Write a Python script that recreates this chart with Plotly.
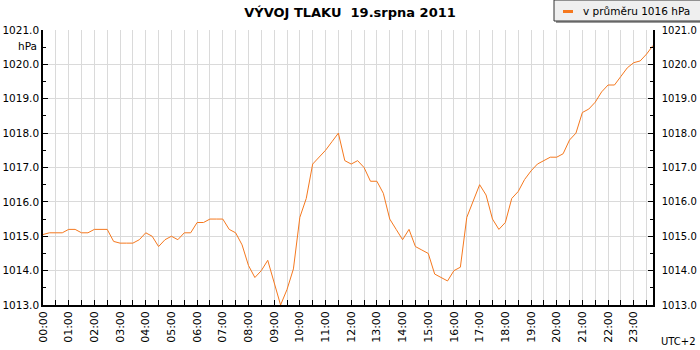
import plotly.graph_objects as go
import pandas as pd

# ---- data ----
start_time = "2011-08-19 00:00"
n_points = 96  # every 15 minutes
pressure = [
    1015.05, 1015.1, 1015.1, 1015.1, 1015.2, 1015.2, 1015.1, 1015.1,
    1015.2, 1015.2, 1015.2, 1014.85, 1014.8, 1014.8, 1014.8, 1014.9,
    1015.1, 1015.0, 1014.7, 1014.9, 1015.0, 1014.9, 1015.1, 1015.1,
    1015.4, 1015.4, 1015.5, 1015.5, 1015.5, 1015.2, 1015.1, 1014.75,
    1014.15, 1013.8, 1014.0, 1014.3, 1013.65, 1013.0, 1013.45, 1014.05,
    1015.55, 1016.1, 1017.1, 1017.3, 1017.5, 1017.75, 1018.0, 1017.2,
    1017.1, 1017.2, 1017.0, 1016.6, 1016.6, 1016.25, 1015.5, 1015.2,
    1014.9, 1015.2, 1014.7, 1014.6, 1014.5, 1013.9, 1013.8, 1013.7,
    1014.0, 1014.1, 1015.55, 1016.0, 1016.5, 1016.2, 1015.5, 1015.2,
    1015.4, 1016.1, 1016.3, 1016.65, 1016.9, 1017.1, 1017.2, 1017.3,
    1017.3, 1017.4, 1017.8, 1018.0, 1018.6, 1018.7, 1018.9, 1019.2,
    1019.4, 1019.4, 1019.65, 1019.9, 1020.05, 1020.1, 1020.3, 1020.55,
]
series_name = "v průměru 1016 hPa"
title_text = "VÝVOJ TLAKU  19.srpna 2011"
y_range = [1013, 1021]

times = pd.date_range(start_time, periods=n_points, freq="15min")

# ---- layout geometry (pixels) ----
W, H = 700, 350
L, R, T, B = 43, 47, 30, 45
PW = W - L - R
PH = H - T - B


def px(x):
    return (x - L) / PW


def py(y):
    return (H - B - y) / PH


ORANGE = "#f5781e"
GRID = "#dadada"
FONT = "DejaVu Sans"

fig = go.Figure()
fig.add_trace(go.Scatter(
    x=times, y=pressure, mode="lines", name=series_name,
    line=dict(color=ORANGE, width=1), showlegend=False,
))
# invisible copy to activate the right-hand axis
fig.add_trace(go.Scatter(
    x=times, y=pressure, mode="lines", yaxis="y2",
    line=dict(color="rgba(0,0,0,0)", width=0), showlegend=False,
    hoverinfo="skip",
))

axis_font = dict(family=FONT, size=11, color="#000")
yfont = dict(family=FONT, size=10.5, color="#000")
yfont_r = dict(family=FONT, size=10, color="#000")

fig.update_layout(
    template="none",
    width=W, height=H,
    margin=dict(l=L, r=R, t=T, b=B, autoexpand=False),
    paper_bgcolor="white", plot_bgcolor="white",
    showlegend=False,
    title=dict(text=f"<b>{title_text}</b>", x=0.5, xanchor="center",
               y=1 - 12 / H, yanchor="middle",
               font=dict(family=FONT, size=13, color="#000")),
    xaxis=dict(
        type="date", automargin=False,
        range=[times[0], times[-1]],
        tickformat="%H:%M", dtick=3600000, tick0=start_time,
        tickangle=-90, tickfont=axis_font,
        ticks="inside", ticklen=5, tickcolor="#000", tickwidth=1,
        showgrid=True, gridcolor=GRID, gridwidth=1,
        minor=dict(dtick=1800000, tick0=start_time, showgrid=True,
                   gridcolor=GRID, gridwidth=1, ticks="inside", ticklen=5,
                   tickcolor="#000", tickwidth=1),
        showline=True, linecolor="#000", linewidth=1.5,
        zeroline=False,
    ),
    yaxis=dict(
        automargin=False,
        range=y_range, dtick=1, tickformat=".1f", tickfont=yfont,
        ticks="inside", ticklen=5, tickcolor="#000", tickwidth=1,
        showgrid=True, gridcolor=GRID, gridwidth=1,
        minor=dict(dtick=0.5, ticks="inside", ticklen=3, tickwidth=1,
                   tickcolor="#000", showgrid=False),
        showline=True, linecolor="#000", linewidth=1.5,
        zeroline=False,
    ),
    yaxis2=dict(
        automargin=False,
        range=y_range, dtick=1, tickformat=".1f", tickfont=yfont_r,
        overlaying="y", side="right",
        ticks="inside", ticklen=5, tickcolor="#000", tickwidth=1,
        ticklabelstandoff=5,
        showgrid=False,
        minor=dict(dtick=0.5, ticks="inside", ticklen=3, tickwidth=1,
                   tickcolor="#000"),
        showline=True, linecolor="#000", linewidth=1.5,
        zeroline=False,
    ),
)

# legend box (drawn manually to match the short thick dash)
fig.add_shape(type="rect", xref="paper", yref="paper",
              x0=px(556), x1=px(702), y0=py(23), y1=py(2),
              fillcolor="#9a9a9a", line=dict(width=0), layer="above")
fig.add_shape(type="rect", xref="paper", yref="paper",
              x0=px(554), x1=px(702), y0=py(21), y1=py(0),
              fillcolor="#efefef", line=dict(color="#333", width=1),
              layer="above")
fig.add_shape(type="line", xref="paper", yref="paper",
              x0=px(563), x1=px(573), y0=py(11.5), y1=py(11.5),
              line=dict(color=ORANGE, width=3), layer="above")
fig.add_annotation(text=series_name, xref="paper", yref="paper",
                   x=px(581), y=py(11.5), xanchor="left", yanchor="middle",
                   showarrow=False, font=dict(family=FONT, size=10.5, color="#000"))

fig.add_annotation(text="hPa", xref="paper", yref="paper",
                   x=px(39), y=py(46), xanchor="right", yanchor="middle",
                   showarrow=False, font=yfont)
fig.add_annotation(text="UTC+2", xref="paper", yref="paper",
                   x=px(698), y=py(341), xanchor="right", yanchor="middle",
                   showarrow=False, font=dict(family=FONT, size=10, color="#000"))

fig.write_html(
    "out.html",
    config={"displayModeBar": False},
    post_script="document.body.style.margin='0';document.body.style.padding='0';",
)
